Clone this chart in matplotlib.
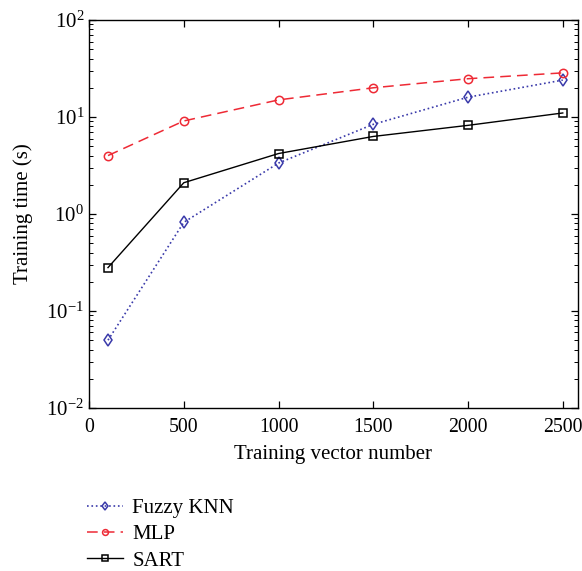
import matplotlib
matplotlib.use("Agg")
import matplotlib.pyplot as plt
from matplotlib.ticker import LogLocator, NullFormatter, FixedLocator

x_vals = [100, 500, 1000, 1500, 2000, 2500]
fuzzy_knn = [0.05, 0.82, 3.35, 8.4, 16.0, 24.0]
mlp = [4.0, 9.1, 15.0, 20.0, 24.8, 28.5]
sart = [0.28, 2.1, 4.2, 6.3, 8.2, 11.0]
x_ticks = [0, 500, 1000, 1500, 2000, 2500]
labels = ["Fuzzy KNN", "MLP", "SART"]

plt.rcParams['font.family'] = ['Liberation Serif', 'DejaVu Serif']
plt.rcParams['mathtext.fontset'] = 'custom'
plt.rcParams['mathtext.rm'] = 'Liberation Serif'
plt.rcParams['mathtext.it'] = 'Liberation Serif:italic'

fig = plt.figure(figsize=(5.82, 5.71), dpi=100)
ax = fig.add_axes([0.153, 0.2855, 0.840, 0.6795])

l1, = ax.plot(x_vals, fuzzy_knn, linestyle=':', color='#3a3aaa', marker='d',
              markersize=6.3, markerfacecolor='none', markeredgecolor='#3a3aaa',
              markeredgewidth=1.1, linewidth=1.2)
l2, = ax.plot(x_vals, mlp, linestyle=(0, (7, 4)), color='#ee2a35', marker='o',
              markersize=6, markerfacecolor='none', markeredgecolor='#ee2a35',
              markeredgewidth=1.1, linewidth=1.1)
l3, = ax.plot(x_vals, sart, linestyle='-', color='black', marker='s',
              markersize=6, markerfacecolor='none', markeredgecolor='black',
              markeredgewidth=1.1, linewidth=1.0)

ax.set_yscale('log')
ax.set_ylim(0.01, 100)
ax.set_xlim(0, 2580)
ax.xaxis.set_major_locator(FixedLocator(x_ticks))
ax.yaxis.set_major_locator(LogLocator(base=10, numticks=10))
ax.yaxis.set_minor_locator(LogLocator(base=10, subs=range(2, 10), numticks=10))
ax.yaxis.set_minor_formatter(NullFormatter())

ax.tick_params(which='both', direction='in', top=True, right=True)
ax.tick_params(axis='y', labelsize=15)
ax.tick_params(axis='x', labelsize=14.2, pad=7)
ax.tick_params(which='major', length=5, width=0.9)
ax.tick_params(which='minor', length=3, width=0.7)
for s in ax.spines.values():
    s.set_linewidth(1.0)

ax.set_xlabel("Training vector number", fontsize=15, labelpad=6)
ax.set_ylabel("Training time (s)", fontsize=15, labelpad=10)

fig.legend([l1, l2, l3], labels, loc='upper left',
           bbox_to_anchor=(0.136, 0.142), frameon=False, fontsize=15,
           handlelength=1.7, handletextpad=0.45, labelspacing=0.33,
           markerscale=0.7, borderaxespad=0)

fig.savefig("out.png", dpi=100)
